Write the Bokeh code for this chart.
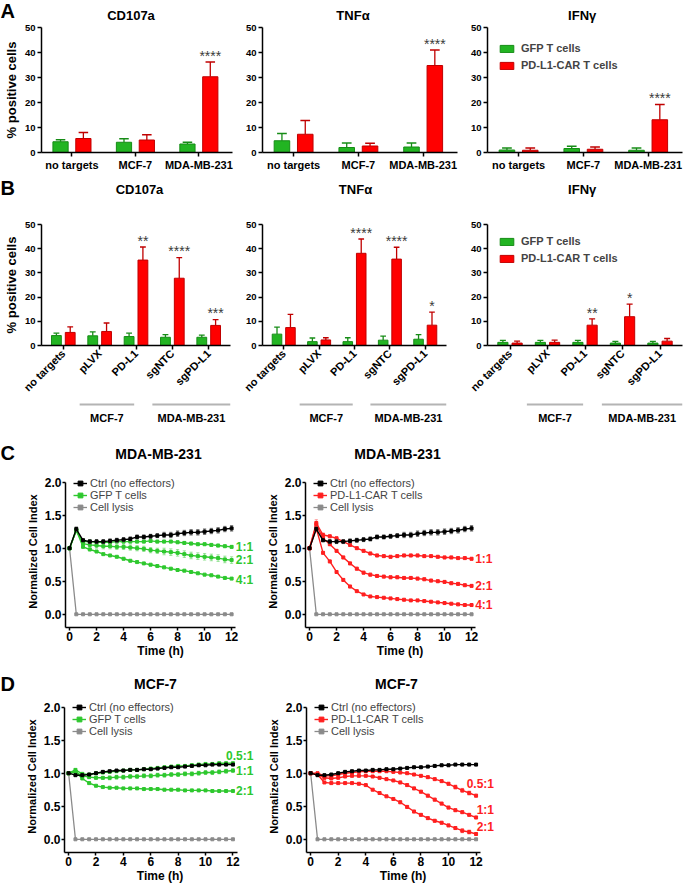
import math
from bokeh.plotting import figure
from bokeh.layouts import row, column
from bokeh.models import Range1d, FixedTicker, Legend, LegendItem, NumeralTickFormatter
from bokeh.embed import file_html
from bokeh.resources import INLINE
from bokeh.core.properties import value

FONT = "Liberation Sans"
GREEN = "#22b422"
GREEN_EDGE = "#168c16"
RED = "#ff0000"
RED_EDGE = "#c00000"
LINE_GREEN = "#2ec82e"
LINE_RED = "#ff1f1f"
GRAY = "#8a8a8a"
STAR = "#3a3a3a"

# ---------------- data: panel A ----------------
a_titles = ["CD107a", "TNFα", "IFNγ"]
a_categories = ["no targets", "MCF-7", "MDA-MB-231"]
a_cd107a_gfp = [4.3, 4.1, 3.4]
a_cd107a_gfp_err = [0.8, 1.4, 0.7]
a_cd107a_car = [5.6, 5.0, 30.3]
a_cd107a_car_err = [2.4, 2.1, 5.9]
a_cd107a_sig = ["", "", "****"]
a_tnfa_gfp = [4.7, 2.0, 2.2]
a_tnfa_gfp_err = [2.9, 1.8, 1.6]
a_tnfa_car = [7.3, 2.6, 34.8]
a_tnfa_car_err = [5.5, 1.1, 6.2]
a_tnfa_sig = ["", "", "****"]
a_ifng_gfp = [1.0, 1.6, 0.9]
a_ifng_gfp_err = [0.8, 0.9, 0.9]
a_ifng_car = [0.9, 1.3, 13.1]
a_ifng_car_err = [0.9, 0.9, 6.1]
a_ifng_sig = ["", "", "****"]

# ---------------- data: panel B ----------------
b_categories = ["no targets", "pLVX", "PD-L1", "sgNTC", "sgPD-L1"]
b_groups = ["MCF-7", "MDA-MB-231"]
b_cd107a_gfp = [4.1, 4.0, 3.7, 3.4, 3.4]
b_cd107a_gfp_err = [1.0, 1.6, 1.4, 1.1, 0.9]
b_cd107a_car = [5.4, 5.8, 35.3, 27.8, 8.3]
b_cd107a_car_err = [2.3, 3.5, 5.4, 8.5, 2.4]
b_cd107a_sig = ["", "", "**", "****", "***"]
b_tnfa_gfp = [4.7, 1.6, 1.6, 2.2, 2.6]
b_tnfa_gfp_err = [2.9, 1.5, 1.6, 1.7, 1.9]
b_tnfa_car = [7.4, 2.3, 38.1, 35.7, 8.4]
b_tnfa_car_err = [5.5, 0.9, 5.9, 4.9, 5.4]
b_tnfa_sig = ["", "", "****", "****", "*"]
b_ifng_gfp = [1.3, 1.3, 1.3, 1.0, 1.0]
b_ifng_gfp_err = [0.8, 0.8, 0.8, 0.7, 0.7]
b_ifng_car = [1.0, 1.3, 8.4, 11.9, 1.8]
b_ifng_car_err = [0.8, 0.9, 2.6, 5.2, 1.1]
b_ifng_sig = ["", "", "**", "*", ""]

bar_y_ticks = [0, 10, 20, 30, 40, 50]

# ---------------- data: panels C / D ----------------
c_title = "MDA-MB-231"
d_title = "MCF-7"
time_h = [0, 0.5, 1, 1.5, 2, 2.5, 3, 3.5, 4, 4.5, 5, 5.5, 6, 6.5, 7, 7.5, 8, 8.5, 9, 9.5, 10, 10.5, 11, 11.5, 12]
time_ticks = [0, 2, 4, 6, 8, 10, 12]
index_ticks = [0, 0.5, 1.0, 1.5, 2.0]
lysis = [1.0, 0, 0, 0, 0, 0, 0, 0, 0, 0, 0, 0, 0, 0, 0, 0, 0, 0, 0, 0, 0, 0, 0, 0, 0]

c_ctrl = [1.00, 1.29, 1.12, 1.10, 1.10, 1.10, 1.11, 1.12, 1.13, 1.14, 1.17, 1.17, 1.18, 1.19, 1.20, 1.20, 1.22, 1.23, 1.24, 1.24, 1.25, 1.26, 1.27, 1.29, 1.30]
c_ctrl_err = [0.00, 0.03, 0.02, 0.03, 0.03, 0.03, 0.03, 0.03, 0.03, 0.03, 0.03, 0.03, 0.03, 0.03, 0.04, 0.04, 0.04, 0.04, 0.04, 0.04, 0.04, 0.04, 0.04, 0.04, 0.04]
c_gfp_1to1 = [1.00, 1.27, 1.10, 1.10, 1.09, 1.09, 1.09, 1.10, 1.10, 1.10, 1.10, 1.10, 1.11, 1.10, 1.10, 1.10, 1.09, 1.08, 1.07, 1.06, 1.06, 1.05, 1.04, 1.03, 1.02]
c_gfp_1to1_err = [0.00, 0.03, 0.02, 0.03, 0.03, 0.02, 0.02, 0.02, 0.02, 0.02, 0.02, 0.02, 0.02, 0.02, 0.02, 0.02, 0.02, 0.02, 0.02, 0.02, 0.02, 0.02, 0.02, 0.02, 0.02]
c_gfp_2to1 = [1.00, 1.27, 1.07, 1.05, 1.04, 1.03, 1.03, 1.02, 1.02, 1.01, 1.00, 0.99, 0.97, 0.96, 0.95, 0.94, 0.93, 0.91, 0.89, 0.88, 0.87, 0.86, 0.85, 0.83, 0.82]
c_gfp_2to1_err = [0.00, 0.04, 0.03, 0.04, 0.04, 0.04, 0.04, 0.04, 0.04, 0.04, 0.04, 0.04, 0.04, 0.04, 0.05, 0.05, 0.05, 0.05, 0.05, 0.05, 0.05, 0.05, 0.05, 0.05, 0.05]
c_gfp_4to1 = [1.00, 1.27, 1.02, 0.98, 0.95, 0.91, 0.89, 0.87, 0.84, 0.81, 0.79, 0.77, 0.75, 0.73, 0.71, 0.69, 0.67, 0.66, 0.64, 0.62, 0.60, 0.59, 0.57, 0.55, 0.54]
c_gfp_4to1_err = [0.00, 0.03, 0.01, 0.01, 0.01, 0.01, 0.01, 0.01, 0.01, 0.01, 0.01, 0.01, 0.01, 0.01, 0.01, 0.01, 0.01, 0.01, 0.01, 0.01, 0.01, 0.01, 0.01, 0.01, 0.01]
c_car_1to1 = [1.00, 1.38, 1.20, 1.18, 1.15, 1.10, 1.05, 1.00, 0.96, 0.92, 0.89, 0.88, 0.87, 0.88, 0.89, 0.89, 0.89, 0.88, 0.88, 0.87, 0.86, 0.86, 0.85, 0.85, 0.84]
c_car_1to1_err = [0.00, 0.05, 0.03, 0.02, 0.02, 0.02, 0.02, 0.02, 0.02, 0.02, 0.02, 0.02, 0.02, 0.02, 0.02, 0.02, 0.02, 0.02, 0.02, 0.02, 0.02, 0.02, 0.02, 0.02, 0.02]
c_car_2to1 = [1.00, 1.35, 1.15, 1.06, 0.96, 0.86, 0.77, 0.69, 0.63, 0.60, 0.58, 0.57, 0.56, 0.56, 0.55, 0.55, 0.54, 0.53, 0.51, 0.50, 0.49, 0.47, 0.46, 0.44, 0.43]
c_car_2to1_err = [0.00, 0.05, 0.02, 0.02, 0.02, 0.02, 0.02, 0.02, 0.02, 0.02, 0.02, 0.02, 0.02, 0.02, 0.02, 0.02, 0.02, 0.02, 0.02, 0.02, 0.02, 0.02, 0.02, 0.02, 0.02]
c_car_4to1 = [1.00, 1.30, 0.93, 0.80, 0.64, 0.52, 0.42, 0.35, 0.30, 0.27, 0.26, 0.25, 0.24, 0.23, 0.22, 0.21, 0.21, 0.20, 0.19, 0.18, 0.17, 0.16, 0.15, 0.14, 0.14]
c_car_4to1_err = [0.00, 0.05, 0.02, 0.02, 0.02, 0.02, 0.02, 0.01, 0.01, 0.01, 0.01, 0.01, 0.01, 0.01, 0.01, 0.01, 0.01, 0.01, 0.01, 0.01, 0.01, 0.01, 0.01, 0.01, 0.01]

d_ctrl = [1.00, 0.97, 0.97, 0.98, 1.00, 1.02, 1.03, 1.04, 1.04, 1.05, 1.05, 1.06, 1.06, 1.07, 1.08, 1.09, 1.09, 1.10, 1.11, 1.12, 1.12, 1.13, 1.13, 1.13, 1.13]
d_ctrl_err = [0.00, 0.01, 0.01, 0.01, 0.01, 0.01, 0.01, 0.01, 0.01, 0.01, 0.01, 0.01, 0.01, 0.01, 0.01, 0.01, 0.01, 0.01, 0.01, 0.01, 0.01, 0.01, 0.01, 0.01, 0.01]
d_gfp_05to1 = [1.00, 1.05, 0.99, 0.98, 1.00, 1.01, 1.02, 1.03, 1.04, 1.05, 1.05, 1.06, 1.07, 1.08, 1.09, 1.10, 1.11, 1.11, 1.12, 1.13, 1.14, 1.14, 1.15, 1.15, 1.15]
d_gfp_05to1_err = [0.00, 0.02, 0.01, 0.01, 0.01, 0.01, 0.01, 0.01, 0.01, 0.01, 0.01, 0.01, 0.01, 0.01, 0.01, 0.01, 0.01, 0.01, 0.02, 0.02, 0.02, 0.02, 0.02, 0.02, 0.02]
d_gfp_1to1 = [1.00, 1.02, 0.96, 0.94, 0.93, 0.93, 0.93, 0.94, 0.94, 0.95, 0.95, 0.96, 0.96, 0.97, 0.97, 0.98, 0.98, 0.99, 0.99, 1.00, 1.01, 1.01, 1.02, 1.03, 1.04]
d_gfp_1to1_err = [0.00, 0.02, 0.02, 0.02, 0.02, 0.02, 0.03, 0.03, 0.03, 0.03, 0.03, 0.03, 0.03, 0.03, 0.03, 0.03, 0.03, 0.03, 0.03, 0.03, 0.03, 0.03, 0.03, 0.03, 0.03]
d_gfp_2to1 = [1.00, 1.02, 0.92, 0.85, 0.81, 0.79, 0.78, 0.78, 0.77, 0.77, 0.77, 0.76, 0.76, 0.76, 0.75, 0.75, 0.75, 0.74, 0.74, 0.74, 0.74, 0.73, 0.73, 0.73, 0.73]
d_gfp_2to1_err = [0.00, 0.01, 0.01, 0.01, 0.01, 0.01, 0.01, 0.01, 0.01, 0.01, 0.01, 0.01, 0.01, 0.01, 0.01, 0.01, 0.01, 0.01, 0.01, 0.01, 0.01, 0.01, 0.01, 0.01, 0.01]
d_car_05to1 = [1.00, 1.00, 0.96, 0.96, 0.98, 1.00, 1.01, 1.02, 1.03, 1.03, 1.03, 1.03, 1.02, 1.01, 1.00, 0.98, 0.96, 0.94, 0.91, 0.88, 0.84, 0.79, 0.74, 0.70, 0.66]
d_car_05to1_err = [0.00, 0.01, 0.01, 0.01, 0.01, 0.01, 0.01, 0.01, 0.01, 0.01, 0.01, 0.01, 0.01, 0.01, 0.01, 0.01, 0.01, 0.02, 0.02, 0.02, 0.02, 0.03, 0.03, 0.03, 0.02]
d_car_1to1 = [1.00, 0.98, 0.93, 0.92, 0.93, 0.95, 0.96, 0.96, 0.96, 0.95, 0.93, 0.91, 0.89, 0.86, 0.82, 0.77, 0.72, 0.66, 0.60, 0.54, 0.48, 0.44, 0.41, 0.37, 0.33]
d_car_1to1_err = [0.00, 0.01, 0.01, 0.01, 0.01, 0.01, 0.01, 0.01, 0.01, 0.01, 0.01, 0.01, 0.01, 0.02, 0.02, 0.02, 0.02, 0.02, 0.02, 0.02, 0.02, 0.02, 0.02, 0.02, 0.02]
d_car_2to1 = [1.00, 0.98, 0.86, 0.85, 0.85, 0.85, 0.85, 0.84, 0.82, 0.75, 0.70, 0.65, 0.61, 0.56, 0.49, 0.42, 0.37, 0.32, 0.28, 0.25, 0.21, 0.17, 0.13, 0.11, 0.08]
d_car_2to1_err = [0.00, 0.01, 0.01, 0.01, 0.01, 0.01, 0.01, 0.01, 0.01, 0.01, 0.01, 0.01, 0.01, 0.02, 0.02, 0.02, 0.02, 0.02, 0.02, 0.02, 0.02, 0.02, 0.03, 0.03, 0.02]

c_ratios = ["1:1", "2:1", "4:1"]
d_ratios = ["0.5:1", "1:1", "2:1"]


# ---------------- helpers ----------------
def blank_fig(width, height, xr, yr, **kw):
    p = figure(width=width, height=height, x_range=xr, y_range=yr, toolbar_location=None, tools="",
               output_backend="svg", **kw)
    return p


def style_axes(p):
    for ax in p.axis:
        ax.axis_line_width = 1.5
        ax.axis_line_color = "black"
        ax.major_tick_line_width = 1.5
        ax.major_tick_line_color = "black"
        ax.major_tick_in = 0
        ax.major_tick_out = 4
        ax.minor_tick_line_color = None
        ax.major_label_text_font = FONT
        ax.major_label_text_font_style = "bold"
        ax.major_label_text_color = "black"
        ax.axis_label_text_font = FONT
        ax.axis_label_text_font_style = "bold"
        ax.axis_label_text_color = "black"
    p.grid.visible = False
    p.outline_line_color = None


def header(width, height, letter, letter_y, titles, title_xs, title_y, title_size):
    p = blank_fig(width, height, Range1d(0, width), Range1d(height, 0),
                  min_border_left=0, min_border_right=0, min_border_top=0, min_border_bottom=0,
                  x_axis_location=None, y_axis_location=None)
    p.grid.visible = False
    p.outline_line_color = None
    p.text(x=[0], y=[letter_y], text=[letter], text_font=value(FONT), text_font_size="20px",
           text_font_style="bold", text_align="left", text_baseline="middle", text_color="black")
    p.text(x=title_xs, y=[title_y] * len(titles), text=titles, text_font=value(FONT),
           text_font_size=title_size, text_font_style="bold", text_align="center",
           text_baseline="middle", text_color="black")
    return p


def bar_fig(cats, gfp, gfp_err, car, car_err, sig, width, bl, br, height, bt, bb,
            xr, bw, off, capw, ylabel=None, rotate=False, legend=False):
    fh = height - bt - bb
    p = blank_fig(width, height, Range1d(*xr), Range1d(0, 50),
                  min_border_left=bl, min_border_right=br, min_border_top=bt, min_border_bottom=bb)
    pos = list(range(1, len(cats) + 1))
    gx = [x - off for x in pos]
    rx = [x + off for x in pos]
    gb = p.vbar(x=gx, top=gfp, width=bw, fill_color=GREEN, line_color=GREEN_EDGE, line_width=1)
    rb = p.vbar(x=rx, top=car, width=bw, fill_color=RED, line_color=RED_EDGE, line_width=1)
    for xs, tops, errs, col in ((gx, gfp, gfp_err, GREEN_EDGE), (rx, car, car_err, RED_EDGE)):
        ends = [t + e for t, e in zip(tops, errs)]
        p.segment(x0=xs, y0=tops, x1=xs, y1=ends, line_color=col, line_width=1.3)
        p.segment(x0=[x - capw for x in xs], y0=ends, x1=[x + capw for x in xs], y1=ends,
                  line_color=col, line_width=1.3)
    sx = [x for x, s in zip(rx, sig) if s]
    sy = [t + e + 2.6 for t, e, s in zip(car, car_err, sig) if s]
    st = [s for s in sig if s]
    if st:
        p.text(x=sx, y=sy, text=st, text_font=value(FONT), text_font_size="14px",
               text_align="center", text_baseline="middle", text_color=STAR)
    p.xaxis.ticker = FixedTicker(ticks=pos)
    p.xaxis.major_label_overrides = {x: c for x, c in zip(pos, cats)}
    p.yaxis.ticker = FixedTicker(ticks=bar_y_ticks)
    style_axes(p)
    p.yaxis.major_label_text_font_size = "9.5px"
    p.yaxis.major_label_standoff = 2
    p.xaxis.major_label_standoff = 2
    p.xaxis.major_label_text_font_size = "11px"
    if rotate:
        p.xaxis.major_label_orientation = math.pi / 4
    if ylabel:
        p.yaxis.axis_label = ylabel
        p.yaxis.axis_label_text_font_size = "13px"
        p.yaxis.axis_label_standoff = 3
    if legend:
        lg = Legend(items=[LegendItem(label="GFP T cells", renderers=[gb]),
                           LegendItem(label="PD-L1-CAR T cells", renderers=[rb])],
                    location=(9, fh - 50))
        lg.label_text_font = FONT
        lg.label_text_font_size = "11px"
        lg.label_text_font_style = "bold"
        lg.glyph_width = 17
        lg.glyph_height = 9
        lg.label_height = 16
        lg.spacing = 1
        lg.padding = 2
        lg.margin = 0
        lg.label_standoff = 6
        lg.border_line_alpha = 0
        lg.background_fill_alpha = 0
        p.add_layout(lg)
    return p


def bracket_fig(main, width, bl, br):
    p = blank_fig(width, 25, main.x_range, Range1d(0, 25),
                  min_border_left=bl, min_border_right=br, min_border_top=0, min_border_bottom=0,
                  x_axis_location=None, y_axis_location=None)
    p.grid.visible = False
    p.outline_line_color = None
    spans = [(1.45, 2.95), (3.45, 5.6)]
    p.segment(x0=[s for s, e in spans], y0=[21, 21], x1=[e for s, e in spans], y1=[21, 21],
              line_color="#b4b4b4", line_width=2)
    p.text(x=[(s + e) / 2 for s, e in spans], y=[8, 8], text=b_groups, text_font=value(FONT),
           text_font_size="11px", text_font_style="bold", text_align="center",
           text_baseline="middle", text_color="black")
    return p


def line_fig(series, names, ctrl, ctrl_err, color, legend_name, ratio_dy, ratio_x,
             width, bl, height, bt, bb, x_end, legend_top, legend_x):
    fh = height - bt - bb
    p = blank_fig(width, height, Range1d(-0.3, x_end), Range1d(-0.2, 2.1),
                  min_border_left=bl, min_border_right=0, min_border_top=bt, min_border_bottom=bb)
    lys_l = p.line(time_h, lysis, line_color=GRAY, line_width=1.3)
    lys_p = p.scatter(time_h, lysis, marker="square", size=3, color=GRAY)
    first = None
    for vals, errs in series:
        lo = [v - e for v, e in zip(vals, errs)]
        hi = [v + e for v, e in zip(vals, errs)]
        p.segment(x0=time_h, y0=lo, x1=time_h, y1=hi, line_color=color, line_alpha=0.45, line_width=1)
        p.segment(x0=[t - 0.12 for t in time_h], y0=hi, x1=[t + 0.12 for t in time_h], y1=hi,
                  line_color=color, line_alpha=0.45, line_width=1)
        p.segment(x0=[t - 0.12 for t in time_h], y0=lo, x1=[t + 0.12 for t in time_h], y1=lo,
                  line_color=color, line_alpha=0.45, line_width=1)
        l = p.line(time_h, vals, line_color=color, line_width=1.4)
        s = p.scatter(time_h, vals, marker="square", size=3, color=color)
        if first is None:
            first = [l, s]
    lo = [v - e for v, e in zip(ctrl, ctrl_err)]
    hi = [v + e for v, e in zip(ctrl, ctrl_err)]
    p.segment(x0=time_h, y0=lo, x1=time_h, y1=hi, line_color="#606060", line_width=1)
    p.segment(x0=[t - 0.12 for t in time_h], y0=hi, x1=[t + 0.12 for t in time_h], y1=hi,
              line_color="#606060", line_width=1)
    p.segment(x0=[t - 0.12 for t in time_h], y0=lo, x1=[t + 0.12 for t in time_h], y1=lo,
              line_color="#606060", line_width=1)
    cl = p.line(time_h, ctrl, line_color="black", line_width=1.4)
    cp = p.scatter(time_h, ctrl, marker="square", size=3, color="black")

    p.text(x=[ratio_x] * len(names), y=[v[-1] + dy for (v, e), dy in zip(series, ratio_dy)],
           text=names, text_font=value(FONT), text_font_size="12px", text_font_style="bold",
           text_color=color, text_align="right", text_baseline="middle")

    p.xaxis.ticker = FixedTicker(ticks=time_ticks)
    p.yaxis.ticker = FixedTicker(ticks=index_ticks)
    p.yaxis.formatter = NumeralTickFormatter(format="0.0")
    style_axes(p)
    p.xaxis.bounds = (-0.3, 12.3)
    p.yaxis.bounds = (-0.2, 2.0)
    p.xaxis.major_tick_out = 3
    p.yaxis.major_tick_out = 3
    p.xaxis.major_label_text_font_size = "12px"
    p.yaxis.major_label_text_font_size = "12px"
    p.xaxis.major_label_standoff = 1
    p.yaxis.major_label_standoff = 1
    p.xaxis.axis_label = "Time (h)"
    p.xaxis.axis_label_text_font_size = "12px"
    p.xaxis.axis_label_standoff = 0
    p.yaxis.axis_label = "Normalized Cell Index"
    p.yaxis.axis_label_text_font_size = "11px"
    p.yaxis.axis_label_standoff = 3

    lg = Legend(items=[LegendItem(label="Ctrl (no effectors)", renderers=[cl, cp]),
                       LegendItem(label=legend_name, renderers=first),
                       LegendItem(label="Cell lysis", renderers=[lys_l, lys_p])],
                location=(legend_x, fh - legend_top - 40))
    lg.label_text_font = FONT
    lg.label_text_font_size = "11px"
    lg.glyph_width = 14
    lg.glyph_height = 12
    lg.label_height = 12
    lg.spacing = 0
    lg.padding = 2
    lg.margin = 0
    lg.label_standoff = 3
    lg.border_line_alpha = 0
    lg.background_fill_alpha = 0
    p.add_layout(lg)
    return p


# ---------------- panel A ----------------
A_XR = (0.52, 3.53)
hA = header(688, 23, "A", 10, a_titles, [130.5, 352.5, 581.7], 14.5, "13px")
a1 = bar_fig(a_categories, a_cd107a_gfp, a_cd107a_gfp_err, a_cd107a_car, a_cd107a_car_err,
             a_cd107a_sig, 236, 39, 4, 150, 4, 19, A_XR, 0.24, 0.18, 0.075, ylabel="% positive cells")
a2 = bar_fig(a_categories, a_tnfa_gfp, a_tnfa_gfp_err, a_tnfa_car, a_tnfa_car_err,
             a_tnfa_sig, 225, 26, 4, 150, 4, 19, A_XR, 0.24, 0.18, 0.075)
a3 = bar_fig(a_categories, a_ifng_gfp, a_ifng_gfp_err, a_ifng_car, a_ifng_car_err,
             a_ifng_sig, 227, 26, 6, 150, 4, 19, A_XR, 0.24, 0.18, 0.075, legend=True)

# ---------------- panel B ----------------
B_XR = (0.4, 5.6)
hB = header(688, 46, "B", 14, a_titles, [139, 355, 581.7], 16, "13px")
b1 = bar_fig(b_categories, b_cd107a_gfp, b_cd107a_gfp_err, b_cd107a_car, b_cd107a_car_err,
             b_cd107a_sig, 236, 34, 6, 181, 5, 49, B_XR, 0.27, 0.19, 0.08,
             ylabel="% positive cells", rotate=True)
b2 = bar_fig(b_categories, b_tnfa_gfp, b_tnfa_gfp_err, b_tnfa_car, b_tnfa_car_err,
             b_tnfa_sig, 225, 26, 15, 181, 5, 49, B_XR, 0.27, 0.19, 0.08, rotate=True)
b3 = bar_fig(b_categories, b_ifng_gfp, b_ifng_gfp_err, b_ifng_car, b_ifng_car_err,
             b_ifng_sig, 227, 26, 6, 181, 5, 49, B_XR, 0.27, 0.19, 0.08, rotate=True, legend=True)
bb1 = bracket_fig(b1, 236, 34, 6)
bb2 = bracket_fig(b2, 225, 26, 15)
bb3 = bracket_fig(b3, 227, 26, 6)

# ---------------- panel C ----------------
hC = header(494, 39, "C", 27, [c_title, c_title], [158, 397], 28, "14px")
c1 = line_fig([(c_gfp_1to1, c_gfp_1to1_err), (c_gfp_2to1, c_gfp_2to1_err), (c_gfp_4to1, c_gfp_4to1_err)],
              c_ratios, c_ctrl, c_ctrl_err, LINE_GREEN, "GFP T cells", [0, 0, -0.02], 13.6,
              255, 65, 197, 11, 34, 13.77, 0, 6)
c2 = line_fig([(c_car_1to1, c_car_1to1_err), (c_car_2to1, c_car_2to1_err), (c_car_4to1, c_car_4to1_err)],
              c_ratios, c_ctrl, c_ctrl_err, LINE_RED, "PD-L1-CAR T cells", [0, 0, 0], 13.55,
              239, 50, 197, 11, 34, 13.7, 0, 6)

# ---------------- panel D ----------------
hD = header(499, 34, "D", 22, [d_title, d_title], [155, 396], 22, "14px")
d1 = line_fig([(d_gfp_05to1, d_gfp_05to1_err), (d_gfp_1to1, d_gfp_1to1_err), (d_gfp_2to1, d_gfp_2to1_err)],
              d_ratios, d_ctrl, d_ctrl_err, LINE_GREEN, "GFP T cells", [0.11, 0, 0], 13.5,
              255, 64, 190, 5, 31, 13.65, 1, 6)
d2 = line_fig([(d_car_05to1, d_car_05to1_err), (d_car_1to1, d_car_1to1_err), (d_car_2to1, d_car_2to1_err)],
              d_ratios, d_ctrl, d_ctrl_err, LINE_RED, "PD-L1-CAR T cells", [0.18, 0.12, 0.11], 13.3,
              244, 51, 190, 5, 31, 13.7, 1, 6)

layout = column(
    hA,
    row(a1, a2, a3),
    hB,
    row(column(b1, bb1), column(b2, bb2), column(b3, bb3)),
    hC,
    row(c1, c2),
    hD,
    row(d1, d2),
)

open("out.html", "w").write(file_html(layout, INLINE, title="PD-L1-CAR T cells"))
